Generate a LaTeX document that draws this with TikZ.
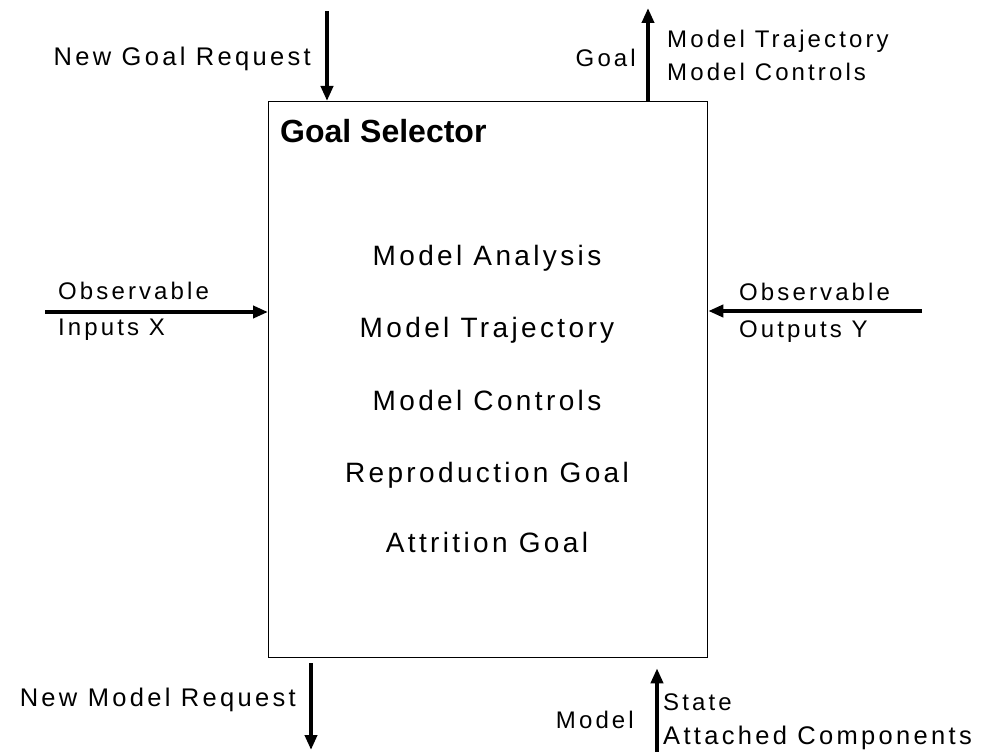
\documentclass[tikz,border=0pt]{standalone}
\usepackage{fontspec}
\setmainfont{Liberation Sans}
\newfontfamily\spfont[LetterSpace=13]{Liberation Sans}
\newfontfamily\infont[LetterSpace=12]{Liberation Sans}
\usetikzlibrary{arrows.meta}
\tikzset{
  flow/.style={line width=4.2pt, -{Triangle[length=15pt,width=12pt]}},
  lbl/.style={inner sep=0pt, text height=17.2pt, text depth=0pt, font=\spfont\fontsize{24}{28}\selectfont},
  lblbig/.style={inner sep=0pt, text height=18.3pt, text depth=0pt, font=\spfont\fontsize{25.5}{30}\selectfont},
  inr/.style={inner sep=0pt, text height=20pt, text depth=0pt, font=\infont\fontsize{28}{33}\selectfont},
  ttl/.style={inner sep=0pt, text height=22.9pt, text depth=0pt, font=\bfseries\fontsize{32}{38}\selectfont},
  box/.style={draw, line width=1.3pt, inner sep=0pt, minimum width=439pt, minimum height=556pt, anchor=north west},
}
\begin{document}
\begin{tikzpicture}[x=1pt,y=-1pt]
\useasboundingbox (0,0) rectangle (989,752);
% main box
\node[box] (gs) at (268,101) {};
\node[ttl, anchor=west] (title) at (280,131) {Goal Selector};
% inner texts
\node[inr] (ma) at (487,255) {Model Analysis};
\node[inr] (mt) at (487,327) {Model Trajectory};
\node[inr] (mc) at (487,400) {Model Controls};
\node[inr] (rg) at (487,472) {Reproduction Goal};
\node[inr] (ag) at (487,542) {Attrition Goal};
% top left arrow
\coordinate (ngr) at (327,11);
\draw[flow] (ngr) -- (ngr |- gs.north);
\node[lblbig, anchor=east] (ngrl) at (311,56) {New Goal Request};
% top right arrow
\coordinate (gl) at (648,8);
\draw[flow] (gl |- gs.north) -- (gl);
\node[lbl, anchor=east] (goal) at (636,58) {Goal};
\node[lbl, anchor=west] (mtr) at (667,39) {Model Trajectory};
\node[lbl, anchor=west] (mco) at (667,72) {Model Controls};
% left arrow
\coordinate (ox) at (45,312);
\draw[flow] (ox) -- (ox -| gs.west);
\node[lbl, anchor=west] (obx) at (58,291) {Observable};
\node[lbl, anchor=west] (inx) at (58,327) {Inputs X};
% right arrow
\coordinate (oy) at (922,311);
\draw[flow] (oy) -- (oy -| gs.east);
\node[lbl, anchor=west] (oby) at (739,292) {Observable};
\node[lbl, anchor=west] (outy) at (739,329) {Outputs Y};
% bottom left arrow
\coordinate (nmr) at (311,750);
\draw[flow] ([yshift=-5pt]nmr |- gs.south) -- (nmr);
\node[lblbig, anchor=east] (nmrl) at (296,697) {New Model Request};
% bottom right arrow
\coordinate (ms) at (657,752);
\draw[flow] (ms) -- ([yshift=-10pt]ms |- gs.south);
\node[lbl, anchor=east] (model) at (634,720) {Model};
\node[lbl, anchor=west] (state) at (663,702) {State};
\node[lblbig, anchor=west] (attc) at (663,735) {Attached Components};
\end{tikzpicture}
\end{document}
